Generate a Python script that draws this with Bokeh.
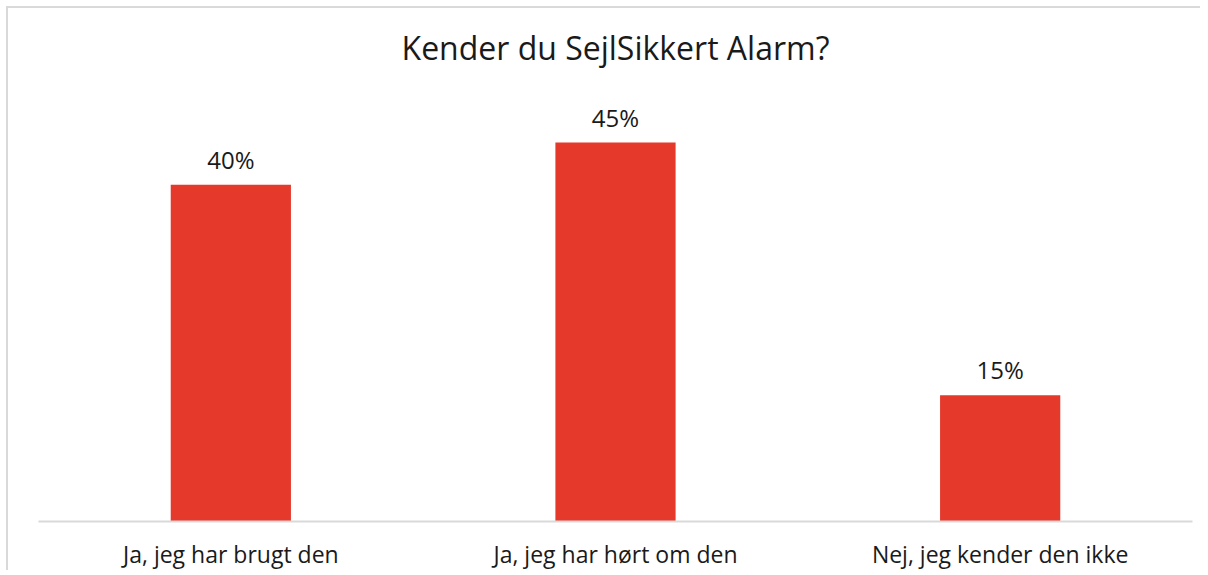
from bokeh.plotting import figure
from bokeh.models import Range1d, FactorRange, Label, ColumnDataSource
from bokeh.core.properties import value
from bokeh.embed import file_html
from bokeh.resources import INLINE

title_text = "Kender du SejlSikkert Alarm?"
categories = ["Ja, jeg har brugt den", "Ja, jeg har hørt om den", "Nej, jeg kender den ikke"]
values = [0.40, 0.45, 0.15]
value_labels = ["40%", "45%", "15%"]

FONT = "Open Sans"
RED = "#E4392B"
GRID = "#D9D9D9"
TXT = "#1A1A1A"

src = ColumnDataSource(dict(cat=categories, val=values, lab=value_labels))

p = figure(
    width=1194, height=564,
    x_range=FactorRange(*categories, range_padding=0),
    y_range=Range1d(0, 0.6044),
    output_backend="svg", toolbar_location=None,
    min_border_left=30, min_border_right=10, min_border_top=4, min_border_bottom=51,
)
p.styles = {"border-left": "2px solid #D9D9D9", "border-top": "2px solid #D9D9D9",
            "margin-left": "6px", "margin-top": "6px"}
p.outline_line_color = None
p.xgrid.grid_line_color = None
p.ygrid.grid_line_color = None
p.yaxis.visible = False

p.vbar(x="cat", top="val", width=0.3125, source=src, fill_color=RED, line_color=None)
p.text(x="cat", y="val", text="lab", source=src, text_align="center", text_baseline="bottom",
       y_offset=-9, text_font=value(FONT), text_font_size="24px", text_color=TXT)

ax = p.xaxis[0]
ax.axis_line_color = GRID
ax.axis_line_width = 2
ax.major_tick_line_color = None
ax.minor_tick_line_color = None
ax.major_label_text_font = FONT
ax.major_label_text_font_size = "23px"
ax.major_label_text_color = TXT
ax.major_label_standoff = 10

p.add_layout(Label(x=1.5, y=0.5628, text=title_text, text_align="center", text_baseline="middle",
                   text_font=FONT, text_font_size="32px", text_color=TXT))

open("out.html", "w").write(file_html(p, INLINE))
